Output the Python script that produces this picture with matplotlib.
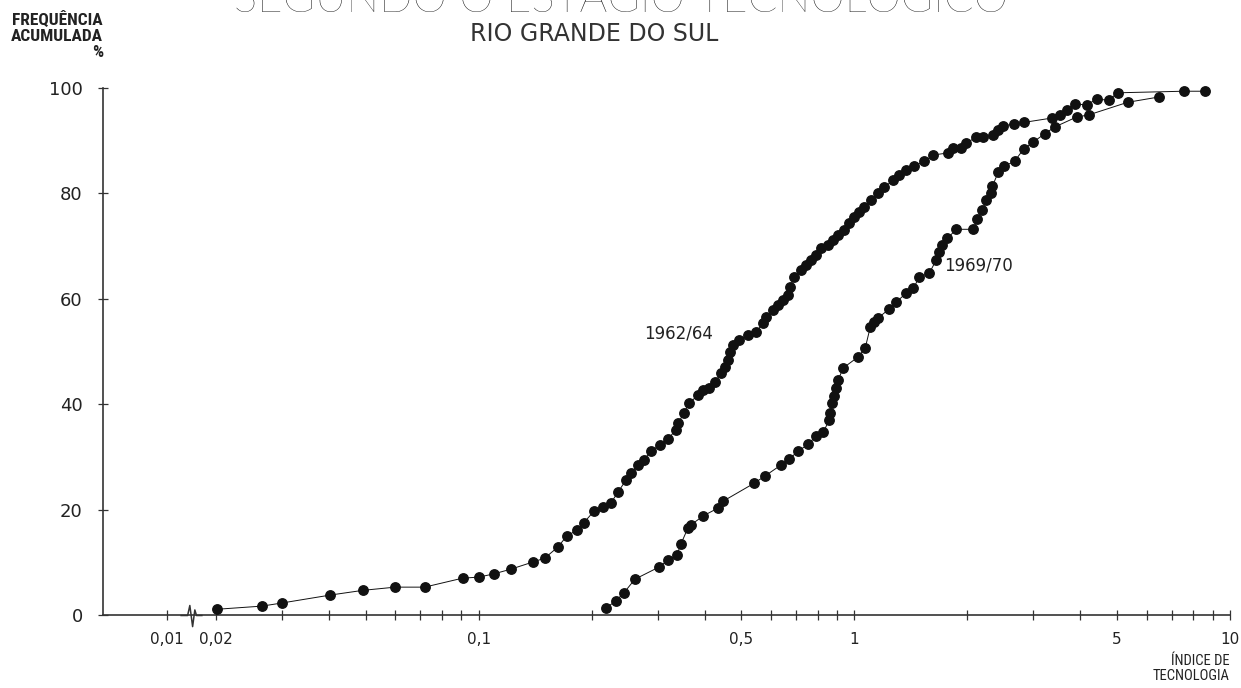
import matplotlib
matplotlib.use("Agg")
import matplotlib.pyplot as plt
from matplotlib.path import Path

# cumulative frequency (%) by technology index
idx_6264 = [0.0201, 0.0265, 0.030, 0.0403, 0.0493, 0.060, 0.0718, 0.0906, 0.100, 0.1096,
            0.1217, 0.140, 0.150, 0.1625, 0.1717, 0.1825, 0.1905, 0.2027, 0.214, 0.225,
            0.235, 0.2466, 0.254, 0.2655, 0.275, 0.2875, 0.304, 0.319, 0.335, 0.3395,
            0.352, 0.363, 0.3837, 0.3957, 0.4105, 0.4258, 0.4418, 0.453, 0.4613, 0.4668,
            0.4757, 0.4934, 0.5215, 0.548, 0.572, 0.582, 0.608, 0.627, 0.647, 0.667,
            0.675, 0.692, 0.7225, 0.745, 0.768, 0.792, 0.817, 0.853, 0.879, 0.906,
            0.940, 0.970, 1.000, 1.031, 1.063, 1.110, 1.159, 1.202, 1.270, 1.318,
            1.376, 1.445, 1.537, 1.624, 1.781, 1.836, 1.929, 1.990, 2.115, 2.208,
            2.348, 2.421, 2.497, 2.655, 2.839, 3.352, 3.521, 3.675, 3.860, 4.155,
            4.420, 4.757, 5.026, 7.537, 8.578]
freq_6264 = [1.1, 1.7, 2.3, 3.8, 4.7, 5.3, 5.3, 7.0, 7.2, 7.8,
             8.7, 10.1, 10.8, 12.9, 15.0, 16.1, 17.5, 19.7, 20.5, 21.3,
             23.3, 25.6, 26.9, 28.5, 29.4, 31.1, 32.3, 33.4, 35.1, 36.4,
             38.3, 40.2, 41.7, 42.7, 43.1, 44.2, 45.9, 47.1, 48.4, 49.9,
             51.2, 52.2, 53.1, 53.7, 55.4, 56.5, 57.9, 58.8, 59.8, 60.7,
             62.2, 64.1, 65.5, 66.4, 67.4, 68.3, 69.6, 70.2, 71.2, 72.1,
             73.1, 74.4, 75.5, 76.5, 77.4, 78.7, 80.1, 81.2, 82.5, 83.5,
             84.4, 85.2, 86.1, 87.3, 87.7, 88.6, 88.6, 89.6, 90.7, 90.7,
             91.1, 92.0, 92.8, 93.2, 93.5, 94.3, 94.9, 95.8, 97.0, 96.8,
             97.9, 97.7, 99.1, 99.4, 99.4]

idx_6970 = [0.218, 0.232, 0.2436, 0.2606, 0.302, 0.319, 0.3373, 0.3457, 0.3607, 0.3675,
            0.3957, 0.4339, 0.4474, 0.541, 0.579, 0.639, 0.671, 0.709, 0.754, 0.792,
            0.827, 0.858, 0.863, 0.874, 0.885, 0.895, 0.906, 0.935, 1.025, 1.070,
            1.103, 1.130, 1.159, 1.240, 1.294, 1.376, 1.436, 1.490, 1.585, 1.654,
            1.686, 1.717, 1.770, 1.871, 2.076, 2.128, 2.195, 2.249, 2.306, 2.333,
            2.421, 2.512, 2.672, 2.823, 3.000, 3.212, 3.415, 3.908, 4.207, 5.346,
            6.467]
freq_6970 = [1.3, 2.7, 4.2, 6.8, 9.1, 10.4, 11.4, 13.5, 16.5, 17.1,
             18.8, 20.3, 21.6, 25.0, 26.4, 28.5, 29.6, 31.1, 32.4, 34.0,
             34.7, 37.0, 38.3, 40.2, 41.6, 43.1, 44.6, 46.9, 49.0, 50.7,
             54.6, 55.6, 56.4, 58.1, 59.4, 61.1, 62.0, 64.1, 64.9, 67.4,
             68.9, 70.2, 71.5, 73.2, 73.2, 75.1, 76.9, 78.7, 80.1, 81.4,
             84.1, 85.2, 86.1, 88.4, 89.8, 91.3, 92.6, 94.5, 94.9, 97.3,
             98.3]

# axis ticks ("+" marks) and which ones carry a label
x_ticks = [0.02, 0.03, 0.04, 0.05, 0.06, 0.07, 0.08, 0.09,
           0.1, 0.2, 0.3, 0.4, 0.5, 0.6, 0.7, 0.8, 0.9,
           1, 2, 3, 4, 5, 6, 7, 8, 9, 10]
x_labels = {0.02: "0,02", 0.1: "0,1", 0.5: "0,5", 1: "1", 5: "5", 10: "10"}
y_ticks = [0, 20, 40, 60, 80, 100]

# the axis is broken between 0,01 and 0,02; the 0,01 mark sits just left of the break
broken_tick = 0.0148
break_at = 0.0171

INK = "#111111"
AXC = "#333333"

plt.rcParams['font.family'] = ['DejaVu Sans']

fig = plt.figure(figsize=(12.41, 6.88), dpi=100)
ax = fig.add_axes([0.083, 0.106, 0.908, 0.766])

ax.plot(idx_6264, freq_6264, color=INK, lw=0.7, marker='o', ms=6.8,
        mfc=INK, mec=INK, clip_on=False, zorder=3)
ax.plot(idx_6970, freq_6970, color=INK, lw=0.7, marker='o', ms=6.8,
        mfc=INK, mec=INK, clip_on=False, zorder=3)

ax.set_xscale('log')
ax.set_xlim(0.01, 10)
ax.set_ylim(0, 100)

for side in ['top', 'right']:
    ax.spines[side].set_visible(False)
for side in ['left', 'bottom']:
    ax.spines[side].set_color(AXC)
    ax.spines[side].set_linewidth(1.2)

ax.xaxis.set_minor_locator(matplotlib.ticker.NullLocator())
ax.set_xticks([broken_tick] + x_ticks)
ax.set_xticklabels(["0,01"] + [x_labels.get(t, "") for t in x_ticks])
ax.set_yticks(y_ticks)
ax.set_yticklabels([str(v) for v in y_ticks])
ax.tick_params(axis='x', direction='inout', length=7, width=0.9, color=AXC,
               pad=9, labelsize=11, labelcolor="#222222")
ax.tick_params(axis='y', direction='inout', length=7, width=0.9, color=AXC,
               pad=11, labelsize=13, labelcolor="#222222")

# squiggle marking the break in the x axis
zig = Path([(-1.0, 0.0), (-0.35, 0.0), (-0.15, 0.9), (0.1, -1.0), (0.3, 0.5), (0.45, 0.0), (1.0, 0.0)])
ax.plot([break_at], [0], marker=zig, ms=16, mfc='none', mec=AXC, mew=1.1,
        clip_on=False, zorder=4)

# series labels
ax.text(0.4207, 53.5, "1962/64", ha='right', va='center', fontsize=12, color="#222222")
ax.text(1.738, 66.4, "1969/70", ha='left', va='center', fontsize=12, color="#222222")

# titles (the main title runs off the top of the page)
fig.text(0.5, 0.982, "SEGUNDO O ESTÁGIO TECNOLÓGICO", ha='center', va='baseline',
         fontsize=31.5, family=['Lato', 'DejaVu Sans'], fontweight='light', color="#111111")
fig.text(0.479, 0.941, "RIO GRANDE DO SUL", ha='center', va='baseline',
         fontsize=17, family=['DejaVu Sans'], color="#333333")

# axis captions
cond = ['Roboto Condensed', 'Liberation Sans Narrow', 'DejaVu Sans']
fig.text(0.083, 0.984, "FREQUÊNCIA\nACUMULADA\n%", ha='right', va='top', multialignment='right',
         fontsize=12.5, family=cond, fontweight='bold', fontstretch='condensed',
         color="#222222", linespacing=1.1)
fig.text(0.991, 0.05, "ÍNDICE DE\nTECNOLOGIA", ha='right', va='top', multialignment='right',
         fontsize=10.5, family=cond, fontstretch='condensed', color="#222222", linespacing=1.15)

fig.savefig("out.png", dpi=100, facecolor='white')
